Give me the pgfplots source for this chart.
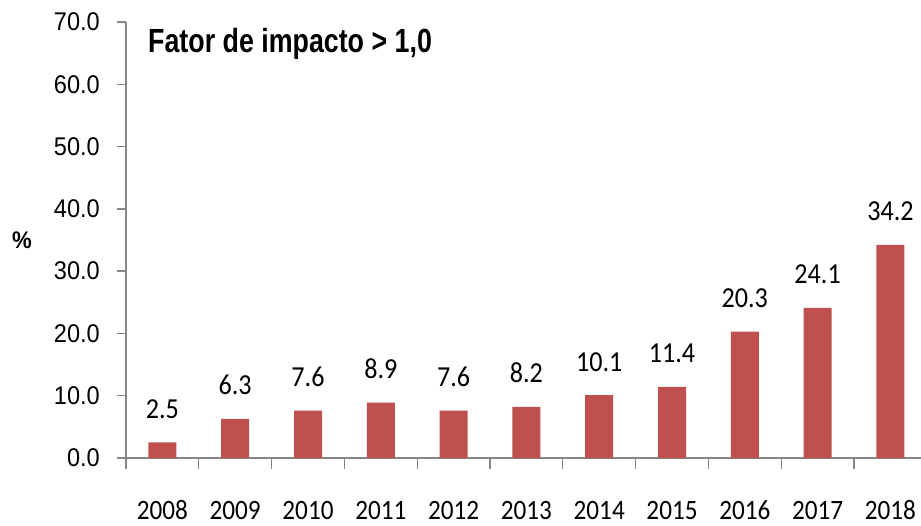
\documentclass[border=0pt]{standalone}
\usepackage{fontspec}
\setmainfont{Carlito}
\newfontfamily\arialc[FakeStretch=0.92]{Liberation Sans}
\newfontfamily\arialt[FakeStretch=0.8]{Liberation Sans}
\newfontfamily\calc[FakeStretch=0.9]{Carlito}
\usepackage{pgfplots}
\pgfplotsset{compat=1.18}
\definecolor{barred}{HTML}{C0504D}
\definecolor{axgray}{HTML}{868686}
\begin{document}
\begin{tikzpicture}
\begin{axis}[
  at={(126pt,67pt)}, anchor=south west,
  scale only axis, width=795pt, height=436pt,
  ybar, bar width=28pt,
  xmin=-0.5, xmax=10.42, ymin=0, ymax=70,
  axis x line*=bottom, axis y line*=left,
  axis line style={axgray, line width=1.3pt},
  tick style={axgray, line width=1.3pt},
  tick align=outside,
  major tick length=9pt, minor tick length=11pt,
  xtick={0,...,10},
  xticklabels={2008,2009,2010,2011,2012,2013,2014,2015,2016,2017,2018},
  major x tick style={opacity=0},
  minor xtick={-0.5,0.5,...,9.5},
  ytick={0,10,...,70},
  scaled y ticks=false,
  /pgf/number format/assume math mode=true,
  yticklabel style={font=\arialc\fontsize{25.6}{28}\selectfont, anchor=east, inner sep=0pt, xshift=-17pt,
    /pgf/number format/.cd, fixed, fixed zerofill, precision=1},
  xticklabel style={font=\calc\fontsize{28}{29}\selectfont, anchor=base, inner sep=0pt, yshift=-52pt},
  nodes near coords,
  every node near coord/.append style={font=\calc\fontsize{29}{30}\selectfont, anchor=base, inner sep=0pt, yshift=24pt, black,
    /pgf/number format/.cd, fixed, fixed zerofill, precision=1},
  clip=false,
]
\addplot[fill=barred, draw=none] coordinates {(0,2.5)(1,6.3)(2,7.6)(3,8.9)(4,7.6)(5,8.2)(6,10.1)(7,11.4)(8,20.3)(9,24.1)(10,34.2)};
\node[anchor=base west, inner sep=0pt, font=\arialt\bfseries\fontsize{33.5}{36}\selectfont] at (axis description cs:0.0277,0.929) {Fator de impacto > 1,0};
\node[inner sep=0pt, font=\arialc\bfseries\fontsize{24}{26}\selectfont] at (axis description cs:-0.131,0.5) {\%};
\end{axis}
\pgfresetboundingbox
\useasboundingbox (0,0) rectangle (921pt,525pt);
\end{tikzpicture}
\end{document}
